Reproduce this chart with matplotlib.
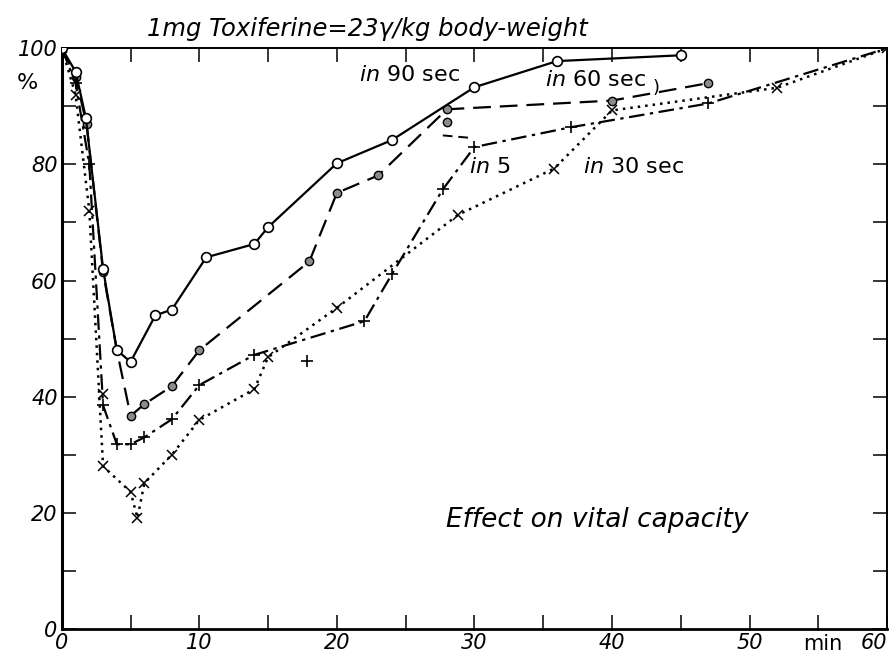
import matplotlib
matplotlib.use("Agg")
import matplotlib.pyplot as plt

# readings (minutes, % of initial vital capacity)
t90 = [0, 1, 1.75, 3, 4, 5, 6.8, 8, 10.5, 14, 15, 20, 24, 30, 36, 45]
v90 = [100, 96, 88, 62, 48, 46, 54, 55, 64, 66.3, 69.2, 80.2, 84.2, 93.3, 97.8, 98.8]

t60 = [0, 1, 1.8, 3, 4, 5, 6, 8, 10, 18, 20, 23, 28, 40, 47]
v60 = [100, 95, 87, 61.5, 48, 36.7, 38.7, 41.8, 48, 63.3, 75.1, 78.1, 89.5, 91, 94]

t5 = [0, 1, 2, 3, 4, 5, 6, 8, 10, 14, 22, 24, 27.7, 30, 37, 47, 60]
v5 = [100, 94, 80, 38.5, 31.8, 31.8, 33, 36.1, 42, 47.2, 53, 61.1, 75.7, 83, 86.4, 90.5, 100]

t30 = [0, 1, 2, 3, 5, 5.5, 6, 8, 10, 14, 15, 20, 28.8, 35.8, 40, 52, 60]
v30 = [100, 92, 72, 28, 23.6, 19.1, 25.1, 30, 36, 41.3, 46.8, 55.3, 71.3, 79.3, 89.3, 93.2, 100]

# loose points not joined to a curve
plus_extra_t, plus_extra_v = [17.8], [46.1]
x_extra_t, x_extra_v = [3], [40.5]
dot60_extra_t, dot60_extra_v = [28], [87.3]
stub_t, stub_v = [27.7, 29.6], [85.0, 84.6]

xticks_major = [0, 10, 20, 30, 40, 50, 60]
yticks_major = [0, 20, 40, 60, 80, 100]

fig = plt.figure(figsize=(8.96, 6.62), dpi=100)
ax = fig.add_axes([0.069, 0.05, 0.921, 0.877])

ax.plot(t90, v90, "-", color="black", lw=1.6, marker="o", ms=7,
        mfc="white", mec="black", mew=1.2, zorder=4)
ax.plot(t60, v60, color="black", lw=1.6, dashes=(8, 4), marker="o", ms=6,
        mfc="0.55", mec="black", mew=1.0, zorder=3)
ax.plot(t5, v5, color="black", lw=1.6, dashes=(7, 2.5, 1.5, 2.5), marker="+",
        ms=9, mew=1.2, zorder=3)
ax.plot(t30, v30, color="black", lw=1.8, linestyle=(0, (1, 2)), marker="x",
        ms=7, mew=1.1, zorder=3)

ax.plot(plus_extra_t, plus_extra_v, "+", color="black", ms=9, mew=1.2)
ax.plot(x_extra_t, x_extra_v, "x", color="black", ms=7, mew=1.1)
ax.plot(dot60_extra_t, dot60_extra_v, "o", ms=6, mfc="0.55", mec="black")
ax.plot(stub_t, stub_v, color="black", lw=1.4, dashes=(5, 3))

ax.set_xlim(0, 60)
ax.set_ylim(0, 100)
ax.set_xticks(xticks_major)
ax.set_xticks(range(0, 61, 5), minor=True)
ax.set_yticks(yticks_major)
ax.set_yticks(range(0, 101, 10), minor=True)
ax.set_xticklabels([str(v) for v in xticks_major], fontstyle="italic", fontsize=15)
ax.set_yticklabels([str(v) for v in yticks_major], fontstyle="italic", fontsize=15)
ax.get_xticklabels()[-1].set_horizontalalignment("right")
ax.tick_params(which="both", direction="in", top=True, right=True, width=1.1)
ax.tick_params(which="major", length=10, pad=3)
ax.tick_params(which="minor", length=10)
ax.tick_params(axis="x", which="major", labeltop=False)

for s in ax.spines.values():
    s.set_linewidth(1.4)
ax.spines["left"].set_linewidth(2.2)
ax.spines["bottom"].set_linewidth(2.0)

ax.text(55.3, -0.8, "min", fontsize=15, ha="center", va="top")
ax.text(-2.5, 94, "%", fontsize=16, ha="center", va="center", clip_on=False)

ax.text(22.2, 103.4, "1mg Toxiferine=23γ/kg body-weight", fontsize=17.5,
        fontstyle="italic", ha="center", va="center", clip_on=False)

ax.text(25.3, 95.4, r"$\mathit{in\ 90}$ sec", fontsize=16, ha="center", va="center")
ax.text(38.8, 94.5, r"$\mathit{in\ 60}$ sec", fontsize=16, ha="center", va="center")
ax.text(43.2, 93.2, ")", fontsize=13, ha="center", va="center")
ax.text(31.1, 79.5, r"$\mathit{in\ 5}$", fontsize=16, ha="center", va="center")
ax.text(41.6, 79.5, r"$\mathit{in\ 30}$ sec", fontsize=16, ha="center", va="center")

ax.text(38.9, 18.8, "Effect on vital capacity", fontsize=19, fontstyle="italic",
        ha="center", va="center")

fig.savefig("out.png", dpi=100)
